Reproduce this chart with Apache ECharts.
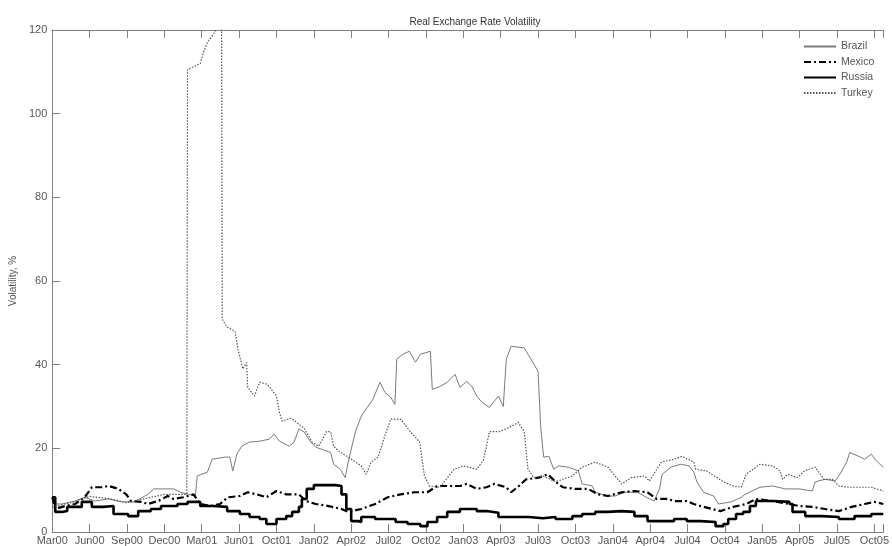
<!DOCTYPE html>
<html>
<head>
<meta charset="utf-8">
<script src="https://cdn.jsdelivr.net/npm/echarts@6/dist/echarts.min.js"></script>
<style>
html,body{margin:0;padding:0;background:#fff;}
#chart{width:892px;height:546px;}
</style>
</head>
<body>
<div id="chart"></div>
<script>
// x positions are in "tick index" units: 0 = Mar00, 1 = Jun00, ... 22 = Oct05
const tickLabels = ['Mar00','Jun00','Sep00','Dec00','Mar01','Jun01','Oct01','Jan02','Apr02','Jul02','Oct02','Jan03','Apr03','Jul03','Oct03','Jan04','Apr04','Jul04','Oct04','Jan05','Apr05','Jul05','Oct05'];
const seriesNames = ['Brazil','Mexico','Russia','Turkey'];

const brazil = [[0,6.7],[0.26,6.7],[0.61,7.4],[0.87,8.3],[1.14,7.4],[1.51,7.9],[1.85,7.2],[2.19,7.2],[2.56,9.0],[2.72,10.3],[3.25,10.3],[3.43,9.5],[3.83,8.6],[3.88,13.4],[4.15,14.3],[4.28,17.4],[4.62,17.9],[4.75,17.9],[4.83,14.6],[4.94,18.6],[5.07,20.5],[5.28,21.5],[5.55,21.7],[5.81,22.2],[5.94,23.4],[6.08,21.7],[6.34,20.5],[6.47,21.5],[6.60,24.6],[6.74,23.9],[6.92,21.5],[7.05,20.3],[7.45,19.0],[7.53,16.2],[7.71,15.0],[7.84,13.0],[7.92,16.7],[8.11,23.9],[8.27,27.7],[8.58,31.7],[8.77,35.8],[8.90,33.4],[9.06,32.2],[9.17,30.5],[9.22,41.3],[9.38,42.5],[9.56,43.2],[9.72,40.6],[9.85,42.5],[10.12,43.2],[10.17,34.1],[10.38,34.8],[10.57,35.8],[10.78,37.7],[10.91,34.6],[11.09,36.0],[11.23,34.8],[11.36,32.5],[11.50,31.0],[11.70,29.8],[11.94,32.5],[12.07,30.0],[12.15,41.3],[12.28,44.4],[12.63,44.0],[12.81,41.3],[13.00,38.4],[13.07,25.3],[13.15,17.9],[13.29,18.1],[13.42,15.0],[13.55,15.8],[13.81,15.5],[14.08,14.6],[14.13,14.3],[14.18,11.5],[14.45,11.0],[14.53,9.5],[14.84,8.6],[15.06,8.6],[15.32,9.5],[15.66,9.5],[15.90,8.3],[16.11,7.4],[16.25,10.3],[16.32,13.8],[16.56,15.5],[16.82,16.2],[17.04,15.8],[17.17,14.3],[17.25,12.0],[17.43,9.5],[17.70,8.6],[17.83,6.7],[18.17,7.2],[18.44,8.3],[18.54,9.0],[18.94,10.7],[19.28,11.0],[19.62,10.3],[19.99,10.3],[20.34,9.8],[20.42,12.0],[20.68,12.6],[20.95,12.2],[21.05,13.4],[21.26,16.7],[21.34,19.0],[21.58,18.1],[21.74,17.4],[21.92,18.6],[22.05,17.0],[22.24,15.5]];

const mexico = [[0,8.3],[0.08,5.5],[0.34,6.2],[0.61,6.7],[0.87,8.3],[1.06,10.7],[1.32,10.7],[1.51,11.0],[1.77,10.3],[1.98,9.0],[2.11,7.4],[2.38,7.2],[2.56,6.7],[2.83,7.4],[3.09,8.6],[3.25,7.9],[3.51,8.3],[3.78,9.0],[3.96,6.7],[4.23,6.2],[4.49,6.7],[4.70,8.3],[5.02,8.6],[5.23,9.5],[5.47,9.0],[5.73,8.3],[6.00,9.8],[6.26,9.0],[6.60,9.0],[6.79,7.4],[7.05,6.7],[7.40,6.2],[7.74,5.5],[7.92,4.8],[8.27,5.5],[8.64,6.7],[8.98,8.3],[9.32,9.0],[9.69,9.5],[10.04,9.5],[10.30,11.0],[10.64,11.0],[10.91,11.0],[11.09,11.5],[11.36,10.3],[11.62,10.7],[11.83,11.5],[12.15,10.7],[12.28,9.5],[12.49,11.0],[12.68,12.6],[13.02,13.0],[13.26,13.8],[13.47,12.0],[13.66,10.7],[14.00,10.3],[14.34,10.3],[14.61,9.0],[14.87,8.6],[15.24,9.5],[15.58,9.8],[15.93,9.5],[16.17,7.9],[16.46,7.9],[16.64,7.4],[16.98,7.4],[17.17,6.7],[17.35,6.2],[17.88,5.0],[18.22,6.0],[18.57,6.7],[18.83,7.9],[19.28,7.4],[19.73,6.7],[19.99,6.2],[20.34,6.0],[20.68,5.5],[21.05,5.0],[21.39,6.0],[21.74,6.7],[22.00,7.2],[22.24,6.7]];

const russia = [[0,8.3],[0.08,4.8],[0.26,5.0],[0.40,6.0],[0.61,6.0],[0.79,7.2],[1.06,6.0],[1.37,6.2],[1.64,4.3],[2.03,3.8],[2.30,5.0],[2.64,5.5],[2.91,6.2],[3.35,6.7],[3.62,7.2],[3.96,6.2],[4.31,6.0],[4.68,5.0],[5.02,4.3],[5.28,3.6],[5.55,3.1],[5.73,1.9],[6.00,3.1],[6.26,3.8],[6.42,4.8],[6.60,6.0],[6.68,7.9],[6.81,10.3],[7.00,11.2],[7.32,11.2],[7.58,11.0],[7.74,9.0],[7.87,5.5],[8.00,2.6],[8.19,2.4],[8.27,3.6],[8.64,3.1],[9.19,2.4],[9.51,1.9],[9.85,1.4],[10.04,2.4],[10.30,3.6],[10.57,4.8],[10.91,5.5],[11.36,5.0],[11.62,4.6],[11.94,3.6],[12.23,3.6],[12.76,3.3],[13.13,3.6],[13.47,3.1],[13.92,3.8],[14.18,4.3],[14.53,4.8],[14.87,5.0],[15.24,4.8],[15.58,3.8],[15.93,2.6],[16.30,2.6],[16.64,3.1],[16.98,2.6],[17.35,2.4],[17.75,1.4],[17.96,1.9],[18.09,3.1],[18.30,4.3],[18.49,4.8],[18.67,6.2],[18.83,7.4],[19.28,7.2],[19.73,6.7],[19.81,4.8],[20.15,3.8],[20.60,3.6],[21.05,3.1],[21.47,3.8],[21.92,4.3],[22.24,4.3]];

const turkey = [[0,6.0],[0.5,7.0],[1.0,8.5],[1.5,8.0],[2.0,7.0],[2.5,8.0],[3.0,9.0],[3.5,9.0],[3.60,9.0],[3.62,110.5],[3.96,112.0],[4.04,114.5],[4.15,117.0],[4.36,119.6],[4.45,125.0],[4.53,125.0],[4.55,50.8],[4.68,49.0],[4.89,48.0],[4.97,43.7],[5.10,39.0],[5.20,40.5],[5.23,34.6],[5.41,32.5],[5.55,35.8],[5.76,35.3],[6.00,32.5],[6.08,28.6],[6.15,26.5],[6.39,27.2],[6.74,24.8],[6.95,21.5],[7.13,20.5],[7.34,24.0],[7.45,24.0],[7.53,20.5],[7.71,19.0],[7.92,17.9],[8.27,15.8],[8.40,13.8],[8.53,16.7],[8.72,17.9],[8.90,23.0],[9.06,27.0],[9.32,27.0],[9.59,23.9],[9.83,21.5],[9.96,13.4],[10.09,11.0],[10.38,10.7],[10.75,15.0],[11.01,15.8],[11.36,15.0],[11.54,17.2],[11.70,24.0],[11.97,24.0],[12.23,25.0],[12.47,26.2],[12.63,24.0],[12.73,15.0],[12.89,13.0],[13.13,13.4],[13.47,12.0],[13.92,13.4],[14.18,15.5],[14.53,16.7],[14.87,15.5],[15.06,13.4],[15.24,11.5],[15.50,13.0],[15.85,13.4],[15.98,12.2],[16.30,16.7],[16.64,17.4],[16.85,18.1],[17.17,16.7],[17.22,15.0],[17.51,14.6],[17.96,12.0],[18.22,11.0],[18.44,10.7],[18.57,13.8],[18.94,16.2],[19.28,15.8],[19.47,14.6],[19.55,12.6],[19.68,13.8],[19.94,13.0],[20.13,14.6],[20.42,15.5],[20.65,12.6],[20.87,12.6],[21.05,11.0],[21.32,10.7],[21.92,10.7],[22.24,9.8]];

const FONT = 'Liberation Sans, Arial, sans-serif';
const axisGray = '#808080';
const textGray = '#555';

const chart = echarts.init(document.getElementById('chart'), null, {renderer:'canvas'});
const xBase = {
  type:'value', min:0, max:22.24, interval:1,
  axisLine:{show:true, lineStyle:{color:axisGray, width:1}},
  axisTick:{show:true, inside:true, length:8, lineStyle:{color:axisGray}},
  splitLine:{show:false}
};
chart.setOption({
  animation:false,
  backgroundColor:'#fff',
  title:{text:'Real Exchange Rate Volatility', left:470, textAlign:'center', top:12,
    textStyle:{fontFamily:FONT, fontSize:10, fontWeight:'normal', color:'#333'}},
  legend:{
    orient:'vertical', left:803, top:41, itemWidth:32, itemHeight:10, itemGap:4.5, padding:0,
    textStyle:{fontFamily:FONT, fontSize:10.5, color:textGray},
    itemStyle:{opacity:0},
    data:seriesNames
  },
  grid:{left:50, right:0, top:30, bottom:13, containLabel:false},
  xAxis:[
    Object.assign({}, xBase, {position:'bottom',
      axisLabel:{show:true, margin:3, fontFamily:FONT, fontSize:11, color:textGray,
        formatter:v => (Math.abs(v - Math.round(v)) < 1e-6 && tickLabels[Math.round(v)]) ? tickLabels[Math.round(v)] : ''}}),
    Object.assign({}, xBase, {position:'top', axisLabel:{show:false}})
  ],
  yAxis:{
    type:'value', min:0, max:120, interval:20,
    name:'Volatility, %', nameLocation:'middle', nameGap:34,
    nameTextStyle:{fontFamily:FONT, fontSize:10, color:textGray},
    axisLine:{show:true, lineStyle:{color:axisGray}},
    axisTick:{show:true, inside:true, length:8, lineStyle:{color:axisGray}},
    axisLabel:{fontFamily:FONT, fontSize:11, color:textGray, margin:5},
    splitLine:{show:false}
  },
  series:[
    {name:'Brazil', type:'line', data:brazil, showSymbol:false, symbol:'none', xAxisIndex:0,
      lineStyle:{color:'#7a7a7a', width:1}, itemStyle:{color:'#7a7a7a'}},
    {name:'Mexico', type:'line', data:mexico, showSymbol:false, symbol:'none', xAxisIndex:0,
      lineStyle:{color:'#000', width:2.2, type:[7,3,2,3]}, itemStyle:{color:'#000'}},
    {name:'Russia', type:'line', data:russia, showSymbol:false, symbol:'none', xAxisIndex:0, step:'end',
      lineStyle:{color:'#000', width:2.6}, itemStyle:{color:'#000'}},
    {name:'Turkey', type:'line', data:turkey, showSymbol:false, symbol:'none', xAxisIndex:0,
      lineStyle:{color:'#555', width:1.2, type:[1.5,1.5]}, itemStyle:{color:'#555'}}
  ]
});
</script>
</body>
</html>
